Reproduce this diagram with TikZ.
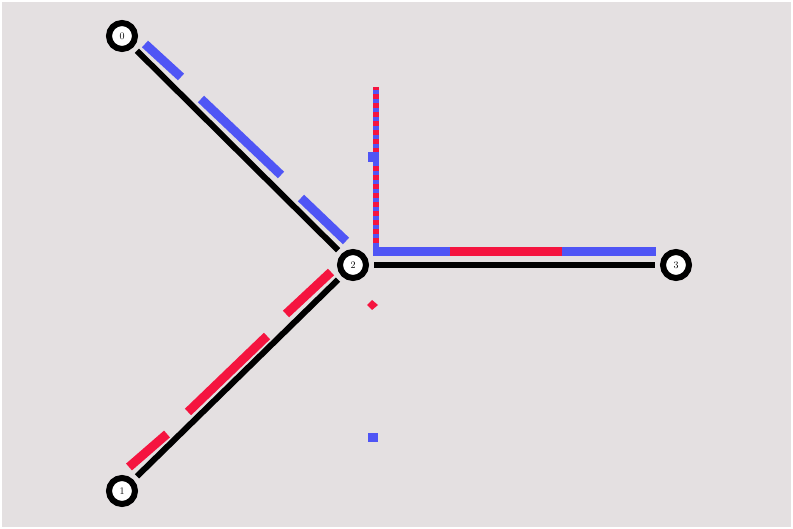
\documentclass[tikz,border=0pt]{standalone}
\usepackage{tikz}
\usepackage{xcolor}
\usetikzlibrary{positioning, calc}
\definecolor{paper}{HTML}{E4E0E1}
\definecolor{flowblue}{HTML}{4F55F5}
\definecolor{flowred}{HTML}{F5143F}

\begin{document}
\begin{tikzpicture}[x=1pt, y=-1pt,
  hub/.style={circle, draw=black, line width=6pt, fill=white, inner sep=0pt,
              minimum size=26pt, font=\fontsize{10}{10}\selectfont},
  link/.style={black, line width=6pt, shorten <=5pt, shorten >=5pt},
  bluebar/.style={flowblue, line width=9pt},
  redbar/.style={flowred, line width=9pt}]
  % Background
  \fill[white] (0,0) rectangle (793,529);
  \fill[paper] (2,2) rectangle (791,527);
  \useasboundingbox (0,0) rectangle (793,529);

  % Nodes
  \node[hub] (n0) at (122,36) {0};
  \node[hub] (n1) at (122,491) {1};
  \node[hub] (n2) at (353,265) {2};
  \node[hub] (n3) at (676,265) {3};

  % Links
  \draw[link] (n0) -- (n2);
  \draw[link] (n1) -- (n2);
  \draw[link] (n2) -- (n3);

  % Flows along 0-2
  \foreach \xa/\ya/\xb/\yb in {145/44/181/77, 201/99/281/175, 301/198/346/241} {
    \draw[bluebar] (\xa,\ya) -- (\xb,\yb);
  }
  % Flows along 1-2
  \foreach \xa/\ya/\xb/\yb in {129/467/167/434, 188/412/267/336, 286/314/331/272} {
    \draw[redbar] (\xa,\ya) -- (\xb,\yb);
  }
  % Flows along 2-3
  \draw[bluebar] (373,252) -- (450,252);
  \draw[redbar] (450,252) -- (562,252);
  \draw[bluebar] (562,252) -- (656,252);

  % Stacked queue
  \draw[flowred, line width=6pt] (376,87) -- (376,247);
  \draw[flowblue, line width=6pt, dash pattern=on 4pt off 5pt] (376,90) -- (376,247);
  \fill[flowblue] (368,152) rectangle (379,162);
  \fill[flowred] (372,300) -- (378,305) -- (372,310) -- (367,305) -- cycle;
  \fill[flowblue] (368,433) rectangle (378,442);
\end{tikzpicture}
\end{document}
